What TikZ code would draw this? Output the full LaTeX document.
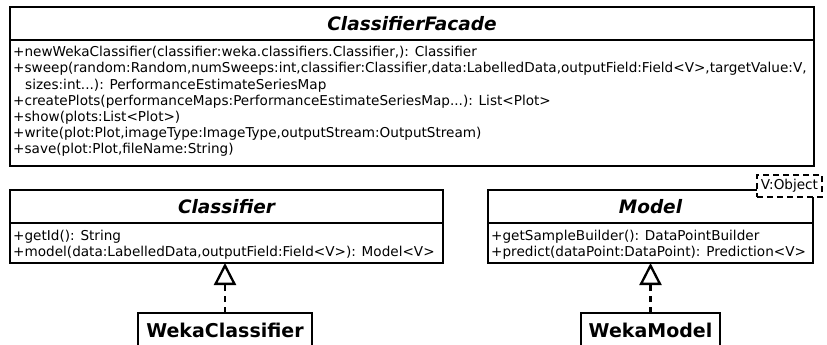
\documentclass[tikz,border=0pt]{standalone}
\usepackage{fontspec}
\setmainfont{DejaVu Sans}
\usetikzlibrary{arrows.meta}
\newcommand\bodyf{\fontsize{13.6}{16}\selectfont}
\newcommand\titlef{\fontsize{18.5}{21}\selectfont\bfseries\itshape}
\newcommand\wekaf{\fontsize{19}{22}\selectfont\bfseries}
\begin{document}
\begin{tikzpicture}[x=1pt,y=1pt,
  box/.style={draw, line width=2.3pt, inner sep=0pt, outer sep=0pt, anchor=north west},
  mline/.style={anchor=base west, inner sep=0pt, font=\bodyf},
  realize/.style={line width=2.3pt, dash pattern=on 6pt off 5pt,
    -{Triangle[open, length=22pt, width=22pt]}},
  tparam/.style={draw, fill=white, line width=2.3pt, dash pattern=on 6pt off 4pt,
    inner sep=0pt, minimum width=65pt, minimum height=22pt, font=\bodyf}]
\useasboundingbox (0,0) rectangle (827,-345);
\clip (0,0) rectangle (827,-345);

% ClassifierFacade
\node[box, minimum width=804pt, minimum height=33pt, font=\titlef] (cfT) at (10,-7) {ClassifierFacade};
\node[box, minimum width=804pt, minimum height=126pt] (cfB) at (cfT.south west) {};
\node[mline] (cf1) at (13,-57) {+newWekaClassifier(classifier:weka.classifiers.Classifier,): Classifier};
\node[mline] (cf2) at (13,-73) {+sweep(random:Random,numSweeps:int,classifier:Classifier,data:LabelledData,outputField:Field<V>,targetValue:V,};
\node[mline] (cf3) at (25,-89) {sizes:int...): PerformanceEstimateSeriesMap};
\node[mline] (cf4) at (13,-105) {+createPlots(performanceMaps:PerformanceEstimateSeriesMap...): List<Plot>};
\node[mline] (cf5) at (13,-121) {+show(plots:List<Plot>)};
\node[mline] (cf6) at (13,-137) {+write(plot:Plot,imageType:ImageType,outputStream:OutputStream)};
\node[mline] (cf7) at (13,-153) {+save(plot:Plot,fileName:String)};

% Classifier
\node[box, minimum width=433pt, minimum height=33pt, font=\titlef] (clT) at (10,-190) {Classifier};
\node[box, minimum width=433pt, minimum height=40pt] (clB) at (clT.south west) {};
\node[mline] (cl1) at (13,-240) {+getId(): String};
\node[mline] (cl2) at (13,-256) {+model(data:LabelledData,outputField:Field<V>): Model<V>};

% Model
\node[box, minimum width=325pt, minimum height=33pt, font=\titlef] (moT) at (488,-190) {Model};
\node[box, minimum width=325pt, minimum height=40pt] (moB) at (moT.south west) {};
\node[mline] (mo1) at (491,-240) {+getSampleBuilder(): DataPointBuilder};
\node[mline] (mo2) at (491,-256) {+predict(dataPoint:DataPoint): Prediction<V>};
\node[tparam] (tp) at (789.5,-186) {V:Object};

% Implementations
\node[box, minimum width=174pt, minimum height=34pt, font=\wekaf] (wc) at (138,-313) {WekaClassifier};
\node[box, minimum width=139pt, minimum height=34pt, font=\wekaf] (wm) at (581,-313) {WekaModel};

\draw[realize] (wc.north) -- (wc.north |- clB.south);
\draw[realize] (wm.north) -- (wm.north |- moB.south);
\end{tikzpicture}
\end{document}
